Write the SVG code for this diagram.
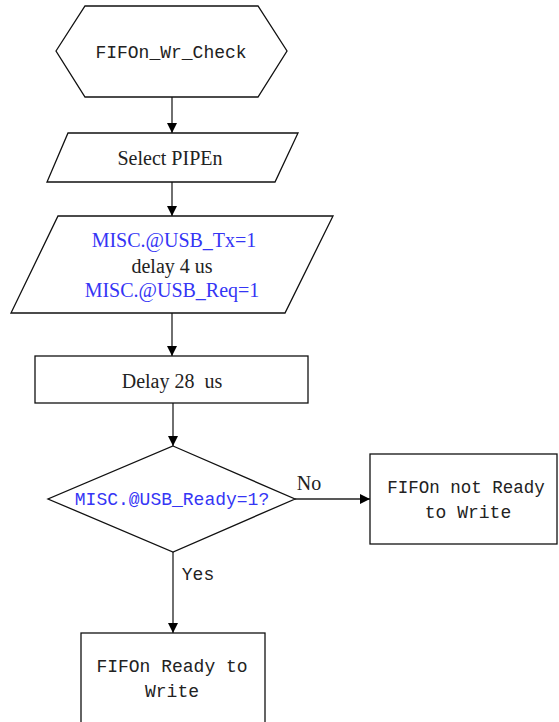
<svg xmlns="http://www.w3.org/2000/svg" width="559" height="722" viewBox="0 0 559 722">
<style>
.shape{fill:#fff;stroke:#111;stroke-width:1.3}
.conn{fill:none;stroke:#222;stroke-width:1.3}
.serif{font-family:"Liberation Serif","Times New Roman",serif;font-size:20px;fill:#222;text-anchor:middle}
.mono{font-family:"Liberation Mono","DejaVu Sans Mono",monospace;font-size:18px;fill:#222;text-anchor:middle}
.blue{fill:#3535f5}
</style>
<defs>
<marker id="ah" viewBox="0 0 10 10" refX="10" refY="5" markerWidth="10" markerHeight="10" markerUnits="userSpaceOnUse" orient="auto">
<path d="M0,0 L10,5 L0,10 Z" fill="#000"/>
</marker>
</defs>
<rect width="559" height="722" fill="#fff"/>
<g id="connectors">
<line class="conn" x1="172" y1="97" x2="172" y2="133" marker-end="url(#ah)"/>
<line class="conn" x1="172" y1="182" x2="172" y2="216" marker-end="url(#ah)"/>
<line class="conn" x1="172" y1="313" x2="172" y2="356" marker-end="url(#ah)"/>
<line class="conn" x1="173" y1="403" x2="173" y2="446" marker-end="url(#ah)"/>
<line class="conn" x1="295" y1="499" x2="370" y2="499" marker-end="url(#ah)"/>
<line class="conn" x1="173" y1="552" x2="173" y2="633" marker-end="url(#ah)"/>
<text class="serif" x="309" y="490">No</text>
<text class="mono" x="198" y="580">Yes</text>
</g>
<g id="start">
<polygon class="shape" points="56,51 85,6 258,6 287,51 258,97 85,97"/>
<text class="mono" x="171" y="58">FIFOn_Wr_Check</text>
</g>
<g id="select">
<polygon class="shape" points="68,133 298,133 275,182 47,182"/>
<text class="serif" x="170" y="165">Select PIPEn</text>
</g>
<g id="misc">
<polygon class="shape" points="58,216 333,216 285,313 11,313"/>
<text class="serif blue" x="174" y="247">MISC.@USB_Tx=1</text>
<text class="serif" x="172" y="273">delay 4 us</text>
<text class="serif blue" x="172" y="297">MISC.@USB_Req=1</text>
</g>
<g id="delay">
<rect class="shape" x="35" y="356" width="273" height="47"/>
<text class="serif" x="172" y="388" xml:space="preserve">Delay 28  us</text>
</g>
<g id="decision">
<polygon class="shape" points="173,446 295,499 173,552 48,499"/>
<text class="mono blue" x="172" y="505">MISC.@USB_Ready=1?</text>
</g>
<g id="notready">
<rect class="shape" x="370" y="454" width="187" height="90"/>
<text class="mono" x="466" y="493" style="font-size:17.5px">FIFOn not Ready</text>
<text class="mono" x="468" y="518">to Write</text>
</g>
<g id="ready">
<rect class="shape" x="81" y="633" width="184" height="100"/>
<text class="mono" x="172" y="672">FIFOn Ready to</text>
<text class="mono" x="172" y="697">Write</text>
</g>
</svg>
